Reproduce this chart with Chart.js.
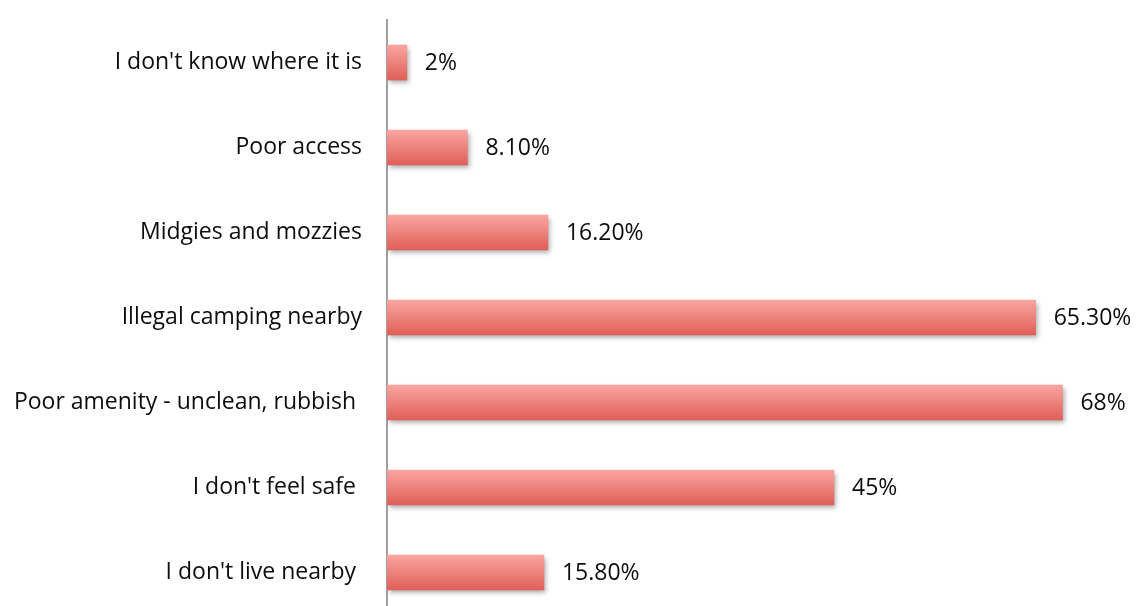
<!DOCTYPE html>
<html>
<head>
<meta charset="utf-8">
<script src="https://cdn.jsdelivr.net/npm/chart.js@4/dist/chart.umd.min.js"></script>
<style>
  html, body { margin: 0; padding: 0; background: #fff; overflow: hidden; }
  #wrap { width: 1137px; height: 615px; position: relative; }
</style>
</head>
<body>
<div id="wrap"><canvas id="chart"></canvas></div>
<script>
const categories = [
  "I don't know where it is",
  'Poor access',
  'Midgies and mozzies',
  'Illegal camping nearby',
  'Poor amenity - unclean, rubbish ',
  "I don't feel safe ",
  "I don't live nearby "
];
const values = [2, 8.1, 16.2, 65.3, 68, 45, 15.8];
const valueLabels = ['2%', '8.10%', '16.20%', '65.30%', '68%', '45%', '15.80%'];

const FONT = '"Open Sans"';
const FONT_SIZE = 23;

function barGradient(context) {
  const chart = context.chart;
  const y = chart.scales.y;
  if (!chart.chartArea || !y) return '#ec7d77';
  const c = y.getPixelForValue(context.dataIndex);
  const g = chart.ctx.createLinearGradient(0, c - 17.5, 0, c + 17.5);
  g.addColorStop(0, '#faa5a1');
  g.addColorStop(1, '#df5f57');
  return g;
}

const shadowPlugin = {
  id: 'barShadow',
  beforeDatasetsDraw(chart) {
    const ctx = chart.ctx;
    ctx.save();
    ctx.shadowColor = 'rgba(0,0,0,0.35)';
    ctx.shadowBlur = 5;
    ctx.shadowOffsetX = 2;
    ctx.shadowOffsetY = 3;
  },
  afterDatasetsDraw(chart) {
    const ctx = chart.ctx;
    ctx.restore();
    // value labels
    const meta = chart.getDatasetMeta(0);
    ctx.save();
    ctx.font = FONT_SIZE + 'px ' + FONT;
    ctx.fillStyle = '#0d0d0d';
    ctx.textAlign = 'left';
    ctx.textBaseline = 'middle';
    meta.data.forEach((bar, i) => {
      ctx.fillText(valueLabels[i], bar.x + 18, bar.y + 1);
    });
    ctx.restore();
  }
};

new Chart(document.getElementById('chart'), {
  type: 'bar',
  data: {
    labels: categories,
    datasets: [{
      data: values,
      backgroundColor: barGradient,
      borderWidth: 0,
      barThickness: 35
    }]
  },
  options: {
    indexAxis: 'y',
    responsive: true,
    maintainAspectRatio: false,
    animation: false,
    layout: { padding: { top: 20, right: 5, bottom: 0, left: 0 } },
    plugins: {
      legend: { display: false },
      tooltip: { enabled: false }
    },
    scales: {
      x: {
        display: false,
        min: 0,
        max: 75
      },
      y: {
        afterFit(scale) {
          scale.width = 387;
          scale.paddingTop = 0;
          scale.paddingBottom = 0;
        },
        grid: { display: false },
        border: { display: true, color: '#a0a0a0', width: 2 },
        ticks: {
          padding: 17,
          color: '#0d0d0d',
          font: { family: FONT, size: FONT_SIZE }
        }
      }
    }
  },
  plugins: [shadowPlugin]
});
</script>
</body>
</html>
